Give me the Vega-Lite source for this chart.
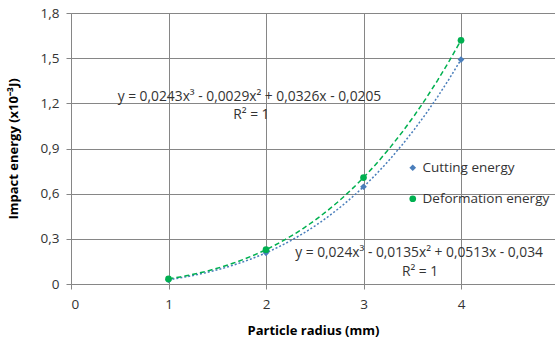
{
  "$schema": "https://vega.github.io/schema/vega-lite/v6.json",
  "width": 484,
  "height": 271,
  "autosize": {"type": "none"},
  "padding": {"left": 71, "top": 13, "right": 0, "bottom": 57},
  "background": "white",
  "config": {
    "view": {"stroke": null},
    "font": "Open Sans",
    "axis": {
      "gridColor": "#868686",
      "gridWidth": 1,
      "domainColor": "#868686",
      "tickColor": "#868686",
      "tickSize": 5,
      "labelFont": "Open Sans",
      "labelFontSize": 13.5,
      "labelColor": "#333333",
      "titleFont": "Open Sans",
      "titleFontSize": 13,
      "titleFontWeight": "bold",
      "titleColor": "#000000"
    }
  },
  "datasets": {
    "pts": [
      {"x": 1, "y": 0.028, "series": "Cutting energy"},
      {"x": 2, "y": 0.207, "series": "Cutting energy"},
      {"x": 3, "y": 0.646, "series": "Cutting energy"},
      {"x": 4, "y": 1.491, "series": "Cutting energy"},
      {"x": 1, "y": 0.034, "series": "Deformation energy"},
      {"x": 2, "y": 0.228, "series": "Deformation energy"},
      {"x": 3, "y": 0.707, "series": "Deformation energy"},
      {"x": 4, "y": 1.619, "series": "Deformation energy"}
    ],
    "notes": [
      {"x": 1.83, "y": 1.242, "text": "y = 0,0243x³ - 0,0029x² + 0,0326x - 0,0205"},
      {"x": 1.85, "y": 1.122, "text": "R² = 1"},
      {"x": 3.57, "y": 0.206, "text": "y = 0,024x³ - 0,0135x² + 0,0513x - 0,034"},
      {"x": 3.58, "y": 0.08, "text": "R² = 1"}
    ]
  },
  "layer": [
    {
      "data": {"name": "pts"},
      "transform": [
        {"filter": "datum.series === 'Cutting energy'"},
        {"regression": "y", "on": "x", "method": "poly", "order": 3}
      ],
      "mark": {"type": "line", "color": "#4a7ebb", "strokeWidth": 1.5, "strokeDash": [2, 2]},
      "encoding": {
        "x": {"field": "x", "type": "quantitative", "scale": {"domain": [0, 4.964], "nice": false},
          "axis": {"values": [0, 1, 2, 3, 4], "format": "d", "title": "Particle radius (mm)", "titlePadding": 14, "labelPadding": 8, "grid": true}},
        "y": {"field": "y", "type": "quantitative", "scale": {"domain": [0, 1.8], "nice": false},
          "axis": {"values": [0, 0.3, 0.6, 0.9, 1.2, 1.5, 1.8], "labelExpr": "datum.value == 0 ? '0' : replace(format(datum.value, '.1f'), '.', ',')",
            "title": "Impact energy (x10⁻³J)", "titlePadding": 20, "labelPadding": 7, "grid": true}}
      }
    },
    {
      "data": {"name": "pts"},
      "transform": [
        {"filter": "datum.series === 'Deformation energy'"},
        {"regression": "y", "on": "x", "method": "poly", "order": 3}
      ],
      "mark": {"type": "line", "color": "#00b050", "strokeWidth": 1.5, "strokeDash": [5, 3]},
      "encoding": {
        "x": {"field": "x", "type": "quantitative"},
        "y": {"field": "y", "type": "quantitative"}
      }
    },
    {
      "data": {"name": "pts"},
      "mark": {"type": "point", "filled": true, "opacity": 1, "size": 45},
      "encoding": {
        "x": {"field": "x", "type": "quantitative"},
        "y": {"field": "y", "type": "quantitative"},
        "color": {"field": "series", "type": "nominal",
          "scale": {"domain": ["Cutting energy", "Deformation energy"], "range": ["#4a7ebb", "#00b050"]},
          "legend": {"title": null, "orient": "none", "legendX": 335, "legendY": 148, "padding": 0,
            "labelFont": "Open Sans", "labelFontSize": 13.5, "labelColor": "#333333", "labelOffset": 3,
            "rowPadding": 16, "symbolSize": 45}},
        "shape": {"field": "series", "type": "nominal",
          "scale": {"domain": ["Cutting energy", "Deformation energy"], "range": ["diamond", "circle"]}}
      }
    },
    {
      "data": {"name": "notes"},
      "mark": {"type": "text", "font": "Open Sans", "fontSize": 13.8, "color": "#333333", "align": "center", "baseline": "middle"},
      "encoding": {
        "x": {"field": "x", "type": "quantitative"},
        "y": {"field": "y", "type": "quantitative"},
        "text": {"field": "text"}
      }
    }
  ]
}
